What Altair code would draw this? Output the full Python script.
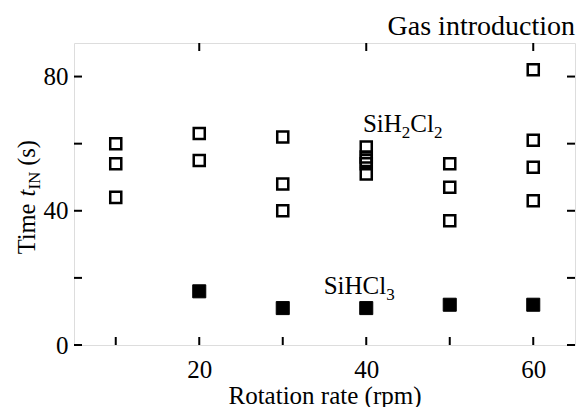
import altair as alt
import pandas as pd

# ---- data ----
open_x = [10, 10, 10, 20, 20, 30, 30, 30, 40, 40, 40, 40, 40, 50, 50, 50, 60, 60, 60, 60]
open_y = [60, 54, 44, 63, 55, 62, 48, 40, 59, 56, 55, 54, 51, 54, 47, 37, 82, 61, 53, 43]

filled_x = [20, 30, 40, 50, 60]
filled_y = [16, 11, 11, 12, 12]

x_tick_values = [10, 20, 30, 40, 50, 60]
x_top_tick_values = [20, 40, 60]
x_label_values = [20, 40, 60]
y_tick_values = [0, 20, 40, 60, 80]
y_label_values = [0, 40, 80]

W, H = 501, 302
FONT = "Liberation Serif"

xs = alt.Scale(domain=[5, 65], nice=False, zero=False)
ys = alt.Scale(domain=[0, 90], nice=False)

df_open = pd.DataFrame({"rpm": open_x, "t": open_y})
df_fill = pd.DataFrame({"rpm": filled_x, "t": filled_y})
df_xt = pd.DataFrame({"v": x_tick_values})
df_xtt = pd.DataFrame({"v": x_top_tick_values})
df_yt = pd.DataFrame({"v": y_tick_values})

base_x = alt.X("rpm:Q", scale=xs,
               axis=alt.Axis(values=x_label_values, ticks=False, domain=False, grid=False,
                             labelFontSize=25, labelPadding=12, labelFont=FONT,
                             labelColor="black", title="Rotation rate (rpm)",
                             titleFontSize=25, titleFont=FONT, titleFontWeight="normal",
                             titleColor="black", titlePadding=1))
base_y = alt.Y("t:Q", scale=ys,
               axis=alt.Axis(values=y_label_values, ticks=False, domain=False, grid=False,
                             labelFontSize=25, labelPadding=6, labelFont=FONT,
                             labelColor="black", title=None))

open_pts = alt.Chart(df_open).mark_point(
    shape="square", filled=False, stroke="black", strokeWidth=2.5, size=122, opacity=1
).encode(x=base_x, y=base_y)

filled_pts = alt.Chart(df_fill).mark_point(
    shape="square", filled=True, fill="black", stroke="black", strokeWidth=1, size=170, opacity=1
).encode(x=alt.X("rpm:Q", scale=xs), y=alt.Y("t:Q", scale=ys))

# inward ticks
tick_style = dict(color="black", strokeWidth=2)
left_t = alt.Chart(df_yt).mark_rule(**tick_style).encode(
    y=alt.Y("v:Q", scale=ys), x=alt.value(0), x2=alt.value(8))
right_t = alt.Chart(df_yt).mark_rule(**tick_style).encode(
    y=alt.Y("v:Q", scale=ys), x=alt.value(W - 8), x2=alt.value(W))
bot_t = alt.Chart(df_xt).mark_rule(**tick_style).encode(
    x=alt.X("v:Q", scale=xs), y=alt.value(H), y2=alt.value(H - 8))
top_t = alt.Chart(df_xtt).mark_rule(**tick_style).encode(
    x=alt.X("v:Q", scale=xs), y=alt.value(0), y2=alt.value(8))

# text annotations (composed for subscripts)
def piece(text, x, y, dx, dy, size, italic=False):
    return alt.Chart(pd.DataFrame({"x": [x], "y": [y]})).mark_text(
        text=text, align="left", baseline="alphabetic", dx=dx, dy=dy,
        fontSize=size, font=FONT, color="black",
        fontStyle="italic" if italic else "normal"
    ).encode(x=alt.X("x:Q", scale=xs), y=alt.Y("y:Q", scale=ys))

lab1 = [
    piece("SiH", 39.6, 63.4, 0, 0, 25),
    piece("2", 39.6, 63.4, 38.9, 6, 17),
    piece("Cl", 39.6, 63.4, 47.4, 0, 25),
    piece("2", 39.6, 63.4, 71.0, 6, 17),
]
lab2 = [
    piece("SiHCl", 34.9, 15.2, 0, 0, 25),
    piece("3", 34.9, 15.2, 62.5, 6, 17),
]

# y-axis title: Time t_IN (s), rotated
def ypiece(text, dx, dy, size, italic=False):
    return alt.Chart(pd.DataFrame({"y": [44]})).mark_text(
        text=text, align="left", baseline="alphabetic", angle=270, dx=dx, dy=dy,
        fontSize=size, font=FONT, color="black",
        fontStyle="italic" if italic else "normal"
    ).encode(x=alt.value(-39), y=alt.Y("y:Q", scale=ys))

off = -57
ytitle = [
    ypiece("Time", off + 0, 0, 24.5),
    ypiece("t", off + 57.8, 0, 24.5, italic=True),
    ypiece("IN", off + 64.8, 5, 17),
    ypiece("(s)", off + 88.5, 0, 24.5),
]

# chart heading, placed above the frame at the right
heading = alt.Chart(pd.DataFrame({"s": ["Gas introduction"]})).mark_text(
    align="right", baseline="alphabetic", fontSize=28, font=FONT, color="black"
).encode(text="s:N", x=alt.value(W), y=alt.value(-8))

chart = alt.layer(
    open_pts, filled_pts, left_t, right_t, bot_t, top_t, *lab1, *lab2, *ytitle, heading
).properties(
    width=W, height=H,
    autosize=alt.AutoSizeParams(type="none"),
    padding={"left": 74, "top": 43, "right": 4, "bottom": 62},
).configure_view(stroke="black", strokeWidth=2).configure(background="white")

chart.save("out.html", embed_options={"renderer": "svg", "actions": False})
